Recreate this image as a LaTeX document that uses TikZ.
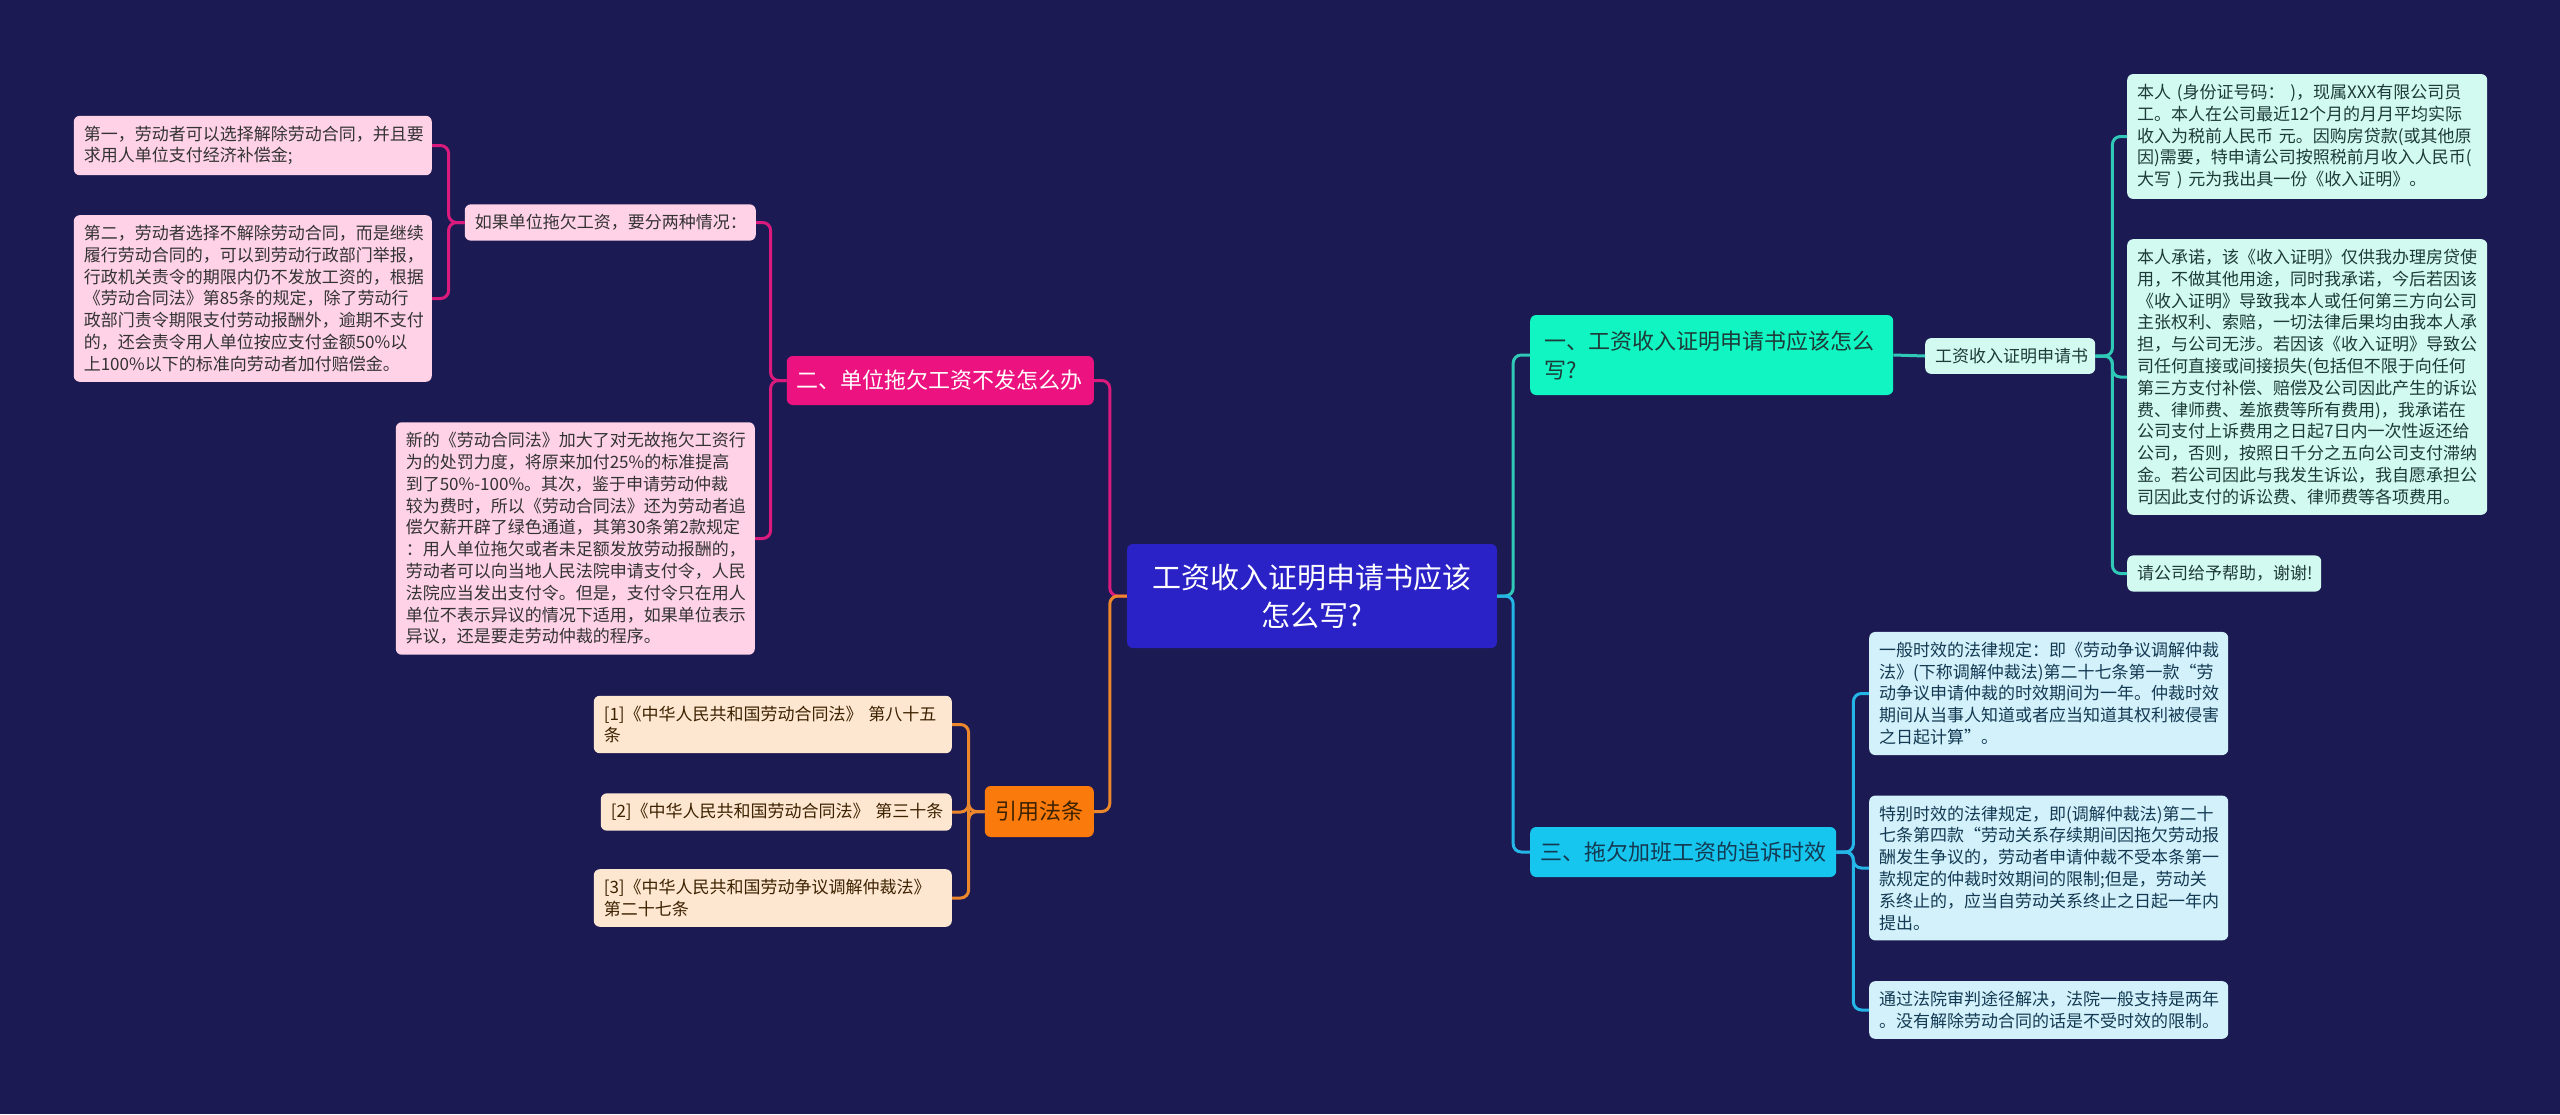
\documentclass[tikz,border=0pt]{standalone}
\usepackage{fontspec}
\newfontfamily\cjk{Noto Sans CJK SC}
\definecolor{bgnavy}{HTML}{1C1A52}
\definecolor{rootfill}{HTML}{2A22C6}
\definecolor{tealfill}{HTML}{10F5C2}
\definecolor{skyfill}{HTML}{16C6EE}
\definecolor{magfill}{HTML}{EC1380}
\definecolor{orgfill}{HTML}{FA7A0C}
\definecolor{pinkfill}{HTML}{FFD2E7}
\definecolor{peachfill}{HTML}{FEE7D1}
\definecolor{mintfill}{HTML}{D2FAF1}
\definecolor{icefill}{HTML}{D3F1FB}
\definecolor{tealedge}{HTML}{30C8B6}
\definecolor{skyedge}{HTML}{25B6E8}
\definecolor{magedge}{HTML}{DA1A7C}
\definecolor{orgedge}{HTML}{EC872C}
\definecolor{leafink}{HTML}{333333}
\definecolor{tealink}{HTML}{1D3B38}
\definecolor{skyink}{HTML}{133A52}
\definecolor{orgink}{HTML}{3C2200}
\tikzset{
  box/.style={rounded corners=6pt, inner xsep=10pt, inner ysep=10pt, align=left},
  leaf/.style={box, text=leafink, text width=#1, font=\cjk\fontsize{17pt}{21.8pt}\selectfont},
  pinkleaf/.style={leaf=#1, fill=pinkfill}, pinkleaf/.default=338pt,
  peachleaf/.style={leaf=#1, fill=peachfill, text=orgink}, peachleaf/.default=338pt,
  mintleaf/.style={leaf=#1, fill=mintfill, text=tealink}, mintleaf/.default=340pt,
  iceleaf/.style={leaf=#1, fill=icefill, text=skyink}, iceleaf/.default=339pt,
  rootbox/.style={box, fill=rootfill, text=white, align=center, text width=350pt, minimum height=104pt, font=\cjk\fontsize{29pt}{38pt}\selectfont},
  branch/.style={box, font=\cjk\fontsize{22pt}{29pt}\selectfont},
  tealbox/.style={branch, fill=tealfill, text=tealink, inner xsep=14pt, text width=335pt, minimum height=80pt},
  skybox/.style={branch, fill=skyfill, text=skyink, text width=286pt, minimum height=50pt},
  magbox/.style={branch, fill=magfill, text=white, text width=287pt, minimum height=49pt},
  orgbox/.style={branch, fill=orgfill, text=orgink, align=center, text width=89pt, minimum height=51pt},
  conn/.style={line width=3pt, rounded corners=8pt},
  tealline/.style={conn, draw=tealedge},
  skyline/.style={conn, draw=skyedge},
  magline/.style={conn, draw=magedge},
  orgline/.style={conn, draw=orgedge}
}
\begin{document}
\begin{tikzpicture}[x=1pt,y=-1pt]
  \useasboundingbox (0,0) rectangle (2560,1114);
  \fill[bgnavy] (0,0) rectangle (2560,1114);

  \node[rootbox] (root) at (1312,596) {工资收入证明申请书应该\\怎么写?};

  \node[tealbox, anchor=west] (one) at (1530,355) {一、工资收入证明申请书应该怎么\\写?};
  \node[mintleaf=150pt, anchor=west] (app) at (1925,356) {工资收入证明申请书};
  \node[mintleaf, anchor=west] (m1) at (2127,136.5) {本人 (身份证号码： )，现属XXX有限公司员\\工。本人在公司最近12个月的月月平均实际\\收入为税前人民币 元。因购房贷款(或其他原\\因)需要，特申请公司按照税前月收入人民币(\\大写 ) 元为我出具一份《收入证明》。};
  \node[mintleaf, anchor=west] (m2) at (2127,377) {本人承诺，该《收入证明》仅供我办理房贷使\\用，不做其他用途，同时我承诺，今后若因该\\《收入证明》导致我本人或任何第三方向公司\\主张权利、索赔，一切法律后果均由我本人承\\担，与公司无涉。若因该《收入证明》导致公\\司任何直接或间接损失(包括但不限于向任何\\第三方支付补偿、赔偿及公司因此产生的诉讼\\费、律师费、差旅费等所有费用)，我承诺在\\公司支付上诉费用之日起7日内一次性返还给\\公司，否则，按照日千分之五向公司支付滞纳\\金。若公司因此与我发生诉讼，我自愿承担公\\司因此支付的诉讼费、律师费等各项费用。};
  \node[mintleaf=174pt, anchor=west] (m3) at (2127,573.5) {请公司给予帮助，谢谢!};

  \node[skybox, anchor=west] (three) at (1530,852) {三、拖欠加班工资的追诉时效};
  \node[iceleaf, anchor=west] (i1) at (1869,693.5) {一般时效的法律规定：即《劳动争议调解仲裁\\法》(下称调解仲裁法)第二十七条第一款“劳\\动争议申请仲裁的时效期间为一年。仲裁时效\\期间从当事人知道或者应当知道其权利被侵害\\之日起计算”。};
  \node[iceleaf, anchor=west] (i2) at (1869,868) {特别时效的法律规定，即(调解仲裁法)第二十\\七条第四款“劳动关系存续期间因拖欠劳动报\\酬发生争议的，劳动者申请仲裁不受本条第一\\款规定的仲裁时效期间的限制;但是，劳动关\\系终止的，应当自劳动关系终止之日起一年内\\提出。};
  \node[iceleaf, anchor=west] (i3) at (1869,1010) {通过法院审判途径解决，法院一般支持是两年\\。没有解除劳动合同的话是不受时效的限制。};

  \node[magbox, anchor=east] (two) at (1094,380.5) {二、单位拖欠工资不发怎么办};
  \node[pinkleaf=271pt, anchor=east] (cases) at (756,222.5) {如果单位拖欠工资，要分两种情况：};
  \node[pinkleaf, anchor=east] (p1) at (432,145.5) {第一，劳动者可以选择解除劳动合同，并且要\\求用人单位支付经济补偿金;};
  \node[pinkleaf, anchor=east] (p2) at (432,298.5) {第二，劳动者选择不解除劳动合同，而是继续\\履行劳动合同的，可以到劳动行政部门举报，\\行政机关责令的期限内仍不发放工资的，根据\\《劳动合同法》第85条的规定，除了劳动行\\政部门责令期限支付劳动报酬外，逾期不支付\\的，还会责令用人单位按应支付金额50\%以\\上100\%以下的标准向劳动者加付赔偿金。};
  \node[pinkleaf=339pt, anchor=east] (p3) at (755,538.5) {新的《劳动合同法》加大了对无故拖欠工资行\\为的处罚力度，将原来加付25\%的标准提高\\到了50\%-100\%。其次，鉴于申请劳动仲裁\\较为费时，所以《劳动合同法》还为劳动者追\\偿欠薪开辟了绿色通道，其第30条第2款规定\\：用人单位拖欠或者未足额发放劳动报酬的，\\劳动者可以向当地人民法院申请支付令，人民\\法院应当发出支付令。但是，支付令只在用人\\单位不表示异议的情况下适用，如果单位表示\\异议，还是要走劳动仲裁的程序。};

  \node[orgbox, anchor=east] (cite) at (1094,811.5) {引用法条};
  \node[peachleaf, anchor=east] (c1) at (952,724.5) {[1]《中华人民共和国劳动合同法》~第八十五\\条};
  \node[peachleaf=331pt, anchor=east] (c2) at (952,812) {[2]《中华人民共和国劳动合同法》~第三十条};
  \node[peachleaf, anchor=east] (c3) at (952,898) {[3]《中华人民共和国劳动争议调解仲裁法》\\第二十七条};

  \draw[tealline] (root.east) -- ++(16,0) |- (one.west);
  \draw[skyline] (root.east) -- ++(16,0) |- (three.west);
  \draw[magline] (root.west) -- ++(-17,0) |- (two.east);
  \draw[orgline] (root.west) -- ++(-17,0) |- (cite.east);
  \draw[tealline] (one.east) -- (app.west);
  \foreach \n in {m1,m2,m3} \draw[tealline] (app.east) -- ++(17,0) |- (\n.west);
  \foreach \n in {i1,i2,i3} \draw[skyline] (three.east) -- ++(17,0) |- (\n.west);
  \foreach \n in {cases,p3} \draw[magline] (two.west) -- ++(-16,0) |- (\n.east);
  \foreach \n in {p1,p2} \draw[magline] (cases.west) -- ++(-16,0) |- (\n.east);
  \foreach \n in {c1,c2,c3} \draw[orgline] (cite.west) -- ++(-16,0) |- (\n.east);
\end{tikzpicture}
\end{document}
